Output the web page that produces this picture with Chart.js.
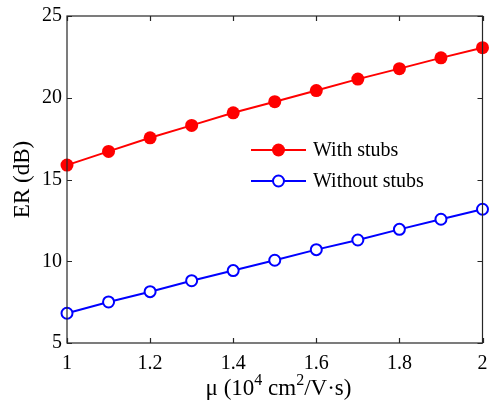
<!DOCTYPE html>
<html>
<head>
<meta charset="utf-8">
<script src="https://cdn.jsdelivr.net/npm/chart.js@4"></script>
<style>
  html, body { margin: 0; padding: 0; background: #fff; }
  canvas { display: block; }
</style>
</head>
<body>
<canvas id="canvas" width="490" height="408"></canvas>
<script>
const mu = [1.0, 1.1, 1.2, 1.3, 1.4, 1.5, 1.6, 1.7, 1.8, 1.9, 2.0];
const withStubs = [15.88, 16.72, 17.55, 18.31, 19.08, 19.76, 20.44, 21.14, 21.78, 22.44, 23.06];
const withoutStubs = [6.82, 7.51, 8.14, 8.81, 9.43, 10.06, 10.71, 11.30, 11.95, 12.57, 13.18];
const legendLabels = ["With stubs", "Without stubs"];
const xTicks = [1, 1.2, 1.4, 1.6, 1.8, 2];
const yTicks = [5, 10, 15, 20, 25];

const serif = "'Liberation Serif', 'Times New Roman', serif";
const ctx = document.getElementById("canvas").getContext("2d");

const toPoints = (xs, ys) => xs.map((x, i) => ({ x: x, y: ys[i] }));

// matlab style box, inward ticks, legend and x title
const decorations = {
  id: "decorations",
  afterDatasetsDraw: (chart) => {
    const c = chart.ctx;
    const a = chart.chartArea;
    const xs = chart.scales.x;
    const ys = chart.scales.y;
    c.save();
    c.strokeStyle = "#262626";
    c.lineWidth = 1.2;
    c.strokeRect(a.left, a.top, a.right - a.left, a.bottom - a.top);
    const len = 5;
    c.beginPath();
    xTicks.forEach((v) => {
      const px = Math.round(xs.getPixelForValue(v)) + 0.5;
      c.moveTo(px, a.bottom); c.lineTo(px, a.bottom - len);
      c.moveTo(px, a.top); c.lineTo(px, a.top + len);
    });
    yTicks.forEach((v) => {
      const py = Math.round(ys.getPixelForValue(v)) + 0.5;
      c.moveTo(a.left, py); c.lineTo(a.left + len, py);
      c.moveTo(a.right, py); c.lineTo(a.right - len, py);
    });
    c.stroke();

    // legend
    const rows = [150, 181];
    chart.data.datasets.forEach((ds, i) => {
      const y = rows[i];
      c.strokeStyle = ds.borderColor;
      c.lineWidth = 2;
      c.beginPath();
      c.moveTo(251, y); c.lineTo(306, y);
      c.stroke();
      c.beginPath();
      c.arc(278.5, y, ds.pointRadius, 0, Math.PI * 2);
      if (ds.pointBackgroundColor !== "#ffffff") {
        c.fillStyle = ds.pointBackgroundColor;
        c.fill();
      } else {
        c.fillStyle = "#fff";
        c.fill();
        c.lineWidth = ds.pointBorderWidth;
        c.stroke();
      }
      c.fillStyle = "#000";
      c.font = "20px " + serif;
      c.textBaseline = "middle";
      c.textAlign = "left";
      c.fillText(legendLabels[i], 313, y + 1);
    });

    // x axis title with superscripts
    const parts = [["\u03bc (10", 23, 0], ["4", 16, -10], [" cm", 23, 0], ["2", 16, -10], ["/V\u00b7s)", 23, 0]];
    c.textBaseline = "alphabetic";
    let total = 0;
    parts.forEach(([t, s]) => { c.font = s + "px " + serif; total += c.measureText(t).width; });
    let x = 278.5 - total / 2;
    parts.forEach(([t, s, dy]) => {
      c.font = s + "px " + serif;
      c.fillText(t, x, 395 + dy);
      x += c.measureText(t).width;
    });
    c.restore();
  }
};

new Chart(ctx, {
  type: "line",
  data: {
    datasets: [
      {
        label: legendLabels[0],
        data: toPoints(mu, withStubs),
        borderColor: "#ff0000",
        backgroundColor: "#ff0000",
        borderWidth: 2,
        pointRadius: 6.5,
        pointBackgroundColor: "#ff0000",
        pointBorderColor: "#ff0000",
        pointBorderWidth: 0,
        tension: 0,
        clip: false
      },
      {
        label: legendLabels[1],
        data: toPoints(mu, withoutStubs),
        borderColor: "#0000ff",
        backgroundColor: "#0000ff",
        borderWidth: 2,
        pointRadius: 5.5,
        pointBackgroundColor: "#ffffff",
        pointBorderColor: "#0000ff",
        pointBorderWidth: 2,
        tension: 0,
        clip: false
      }
    ]
  },
  options: {
    responsive: false,
    animation: false,
    layout: { padding: { left: 0, right: 3, top: 16, bottom: 0 } },
    plugins: { legend: { display: false }, tooltip: { enabled: false } },
    scales: {
      x: {
        type: "linear",
        min: 1,
        max: 2,
        afterBuildTicks: (s) => { s.ticks = xTicks.map((v) => ({ value: v })); },
        afterFit: (s) => { s.height = 65; s.paddingLeft = 0; s.paddingRight = 0; },
        grid: { display: false, drawTicks: false },
        border: { display: false },
        ticks: {
          padding: 9,
          color: "#000",
          font: { family: serif, size: 20 },
          maxRotation: 0,
          callback: (v) => String(+v.toFixed(1))
        }
      },
      y: {
        type: "linear",
        min: 5,
        max: 25,
        afterBuildTicks: (s) => { s.ticks = yTicks.map((v) => ({ value: v })); },
        afterFit: (s) => { s.width = 67; s.paddingTop = 0; s.paddingBottom = 0; },
        grid: { display: false, drawTicks: false },
        border: { display: false },
        title: {
          display: true,
          text: "ER (dB)",
          color: "#000",
          font: { family: serif, size: 23 },
          padding: { top: 9, bottom: 0 }
        },
        ticks: {
          padding: 5,
          color: "#000",
          font: { family: serif, size: 20 },
          callback: (v) => String(v)
        }
      }
    }
  },
  plugins: [decorations]
});
</script>
</body>
</html>
